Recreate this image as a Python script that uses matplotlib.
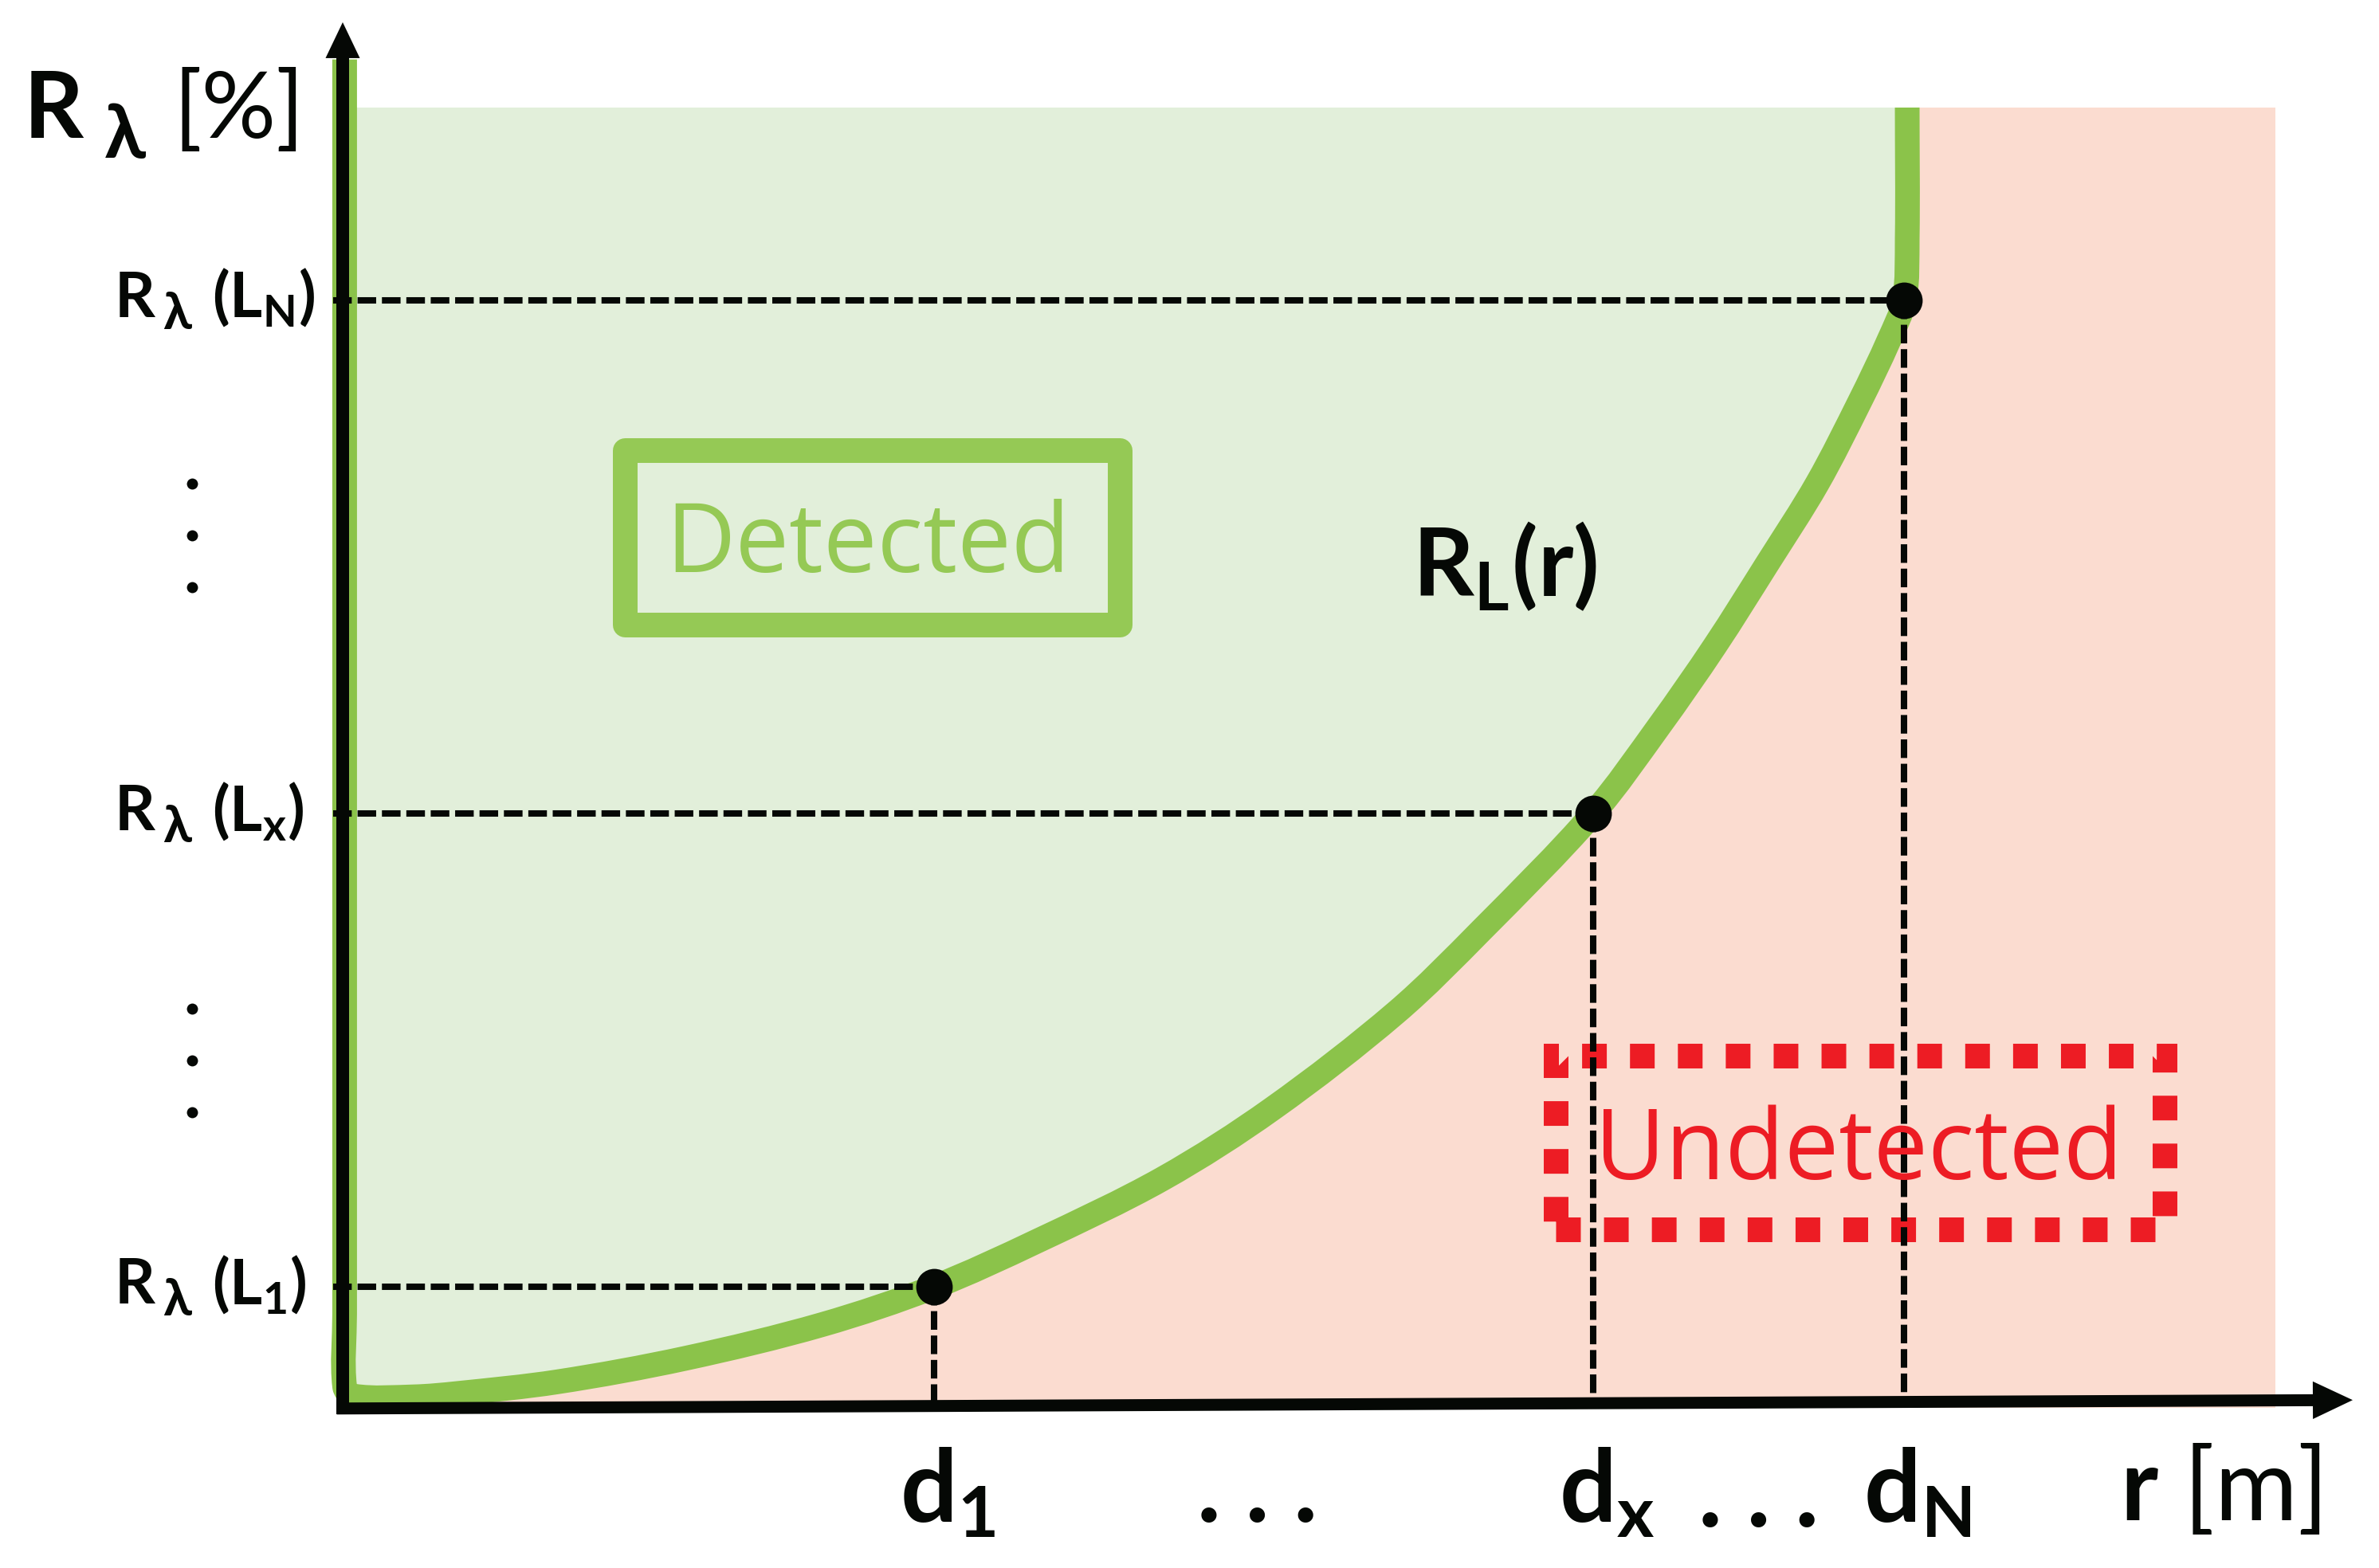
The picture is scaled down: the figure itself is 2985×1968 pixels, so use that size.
import math
import matplotlib
matplotlib.use("Agg")
import matplotlib.pyplot as plt
from matplotlib.patches import Rectangle, ArrowStyle, PathPatch
from matplotlib.path import Path

W, H, DPI = 2985, 1968, 100

plt.rcParams['font.family'] = ['Lato', 'DejaVu Sans']
plt.rcParams['mathtext.fontset'] = 'custom'
plt.rcParams['mathtext.rm'] = 'Lato'
plt.rcParams['mathtext.it'] = 'Lato:italic'
plt.rcParams['mathtext.bf'] = 'Lato:bold'
plt.rcParams['mathtext.sf'] = 'Lato'

# ---------------- data (r and R in % of the frame) ----------------
curve_r = [0.1, 0.1, 0.1, 0.6, 3.7, 5.9, 11.1, 17.7, 24.8, 30.6, 35.9, 42.4, 48.1,
           54.5, 58.9, 64.7, 68.1, 71.0, 73.7, 76.3, 78.5, 80.0, 80.8, 80.95, 80.95]
curve_R = [103.7, 7.2, 1.65, 0.9, 0.85, 1.1, 2.0, 3.8, 6.4, 9.3, 12.8, 17.6, 23.0,
           30.4, 36.7, 45.7, 52.4, 58.6, 64.9, 71.1, 77.4, 82.1, 85.2, 89.9, 100.0]
point_r = [30.6, 64.7, 80.8]
point_R = [9.3, 45.7, 85.2]
x_tick_labels = [r'$\mathbf{d_{1}}$', r'$\mathbf{d_{x}}$', r'$\mathbf{d_{N}}$']
y_tick_subs = [r'$\mathbf{(L_{1})}$', r'$\mathbf{(L_{x})}$', r'$\mathbf{(L_{N})}$']
x_title = r'$\mathbf{r}$ [m]'
y_title = ['R', 'λ', '[%]']
curve_label = r'$\mathbf{R_{L}(r)}$'
region_labels = ['Detected', 'Undetected']

# ---------------- styles ----------------
GREEN_LINE = '#8BC34A'
BOX_GREEN = '#95C955'
BG_GREEN = '#E2EFDA'
BG_PINK = '#FBDCD0'
RED = '#ED1C24'
BLACK = '#050805'


def fx(px):
    return px / W


def fy(py):
    return 1 - py / H


def _unit(dx, dy):
    n = math.hypot(dx, dy)
    return (dx / n, dy / n) if n > 0 else (0.0, 0.0)


def smooth_path(xs, ys, close_to=None):
    """Smooth curve through the given points (cubic Bezier, handles 1/3 of each segment)."""
    pts = list(zip(xs, ys))
    n = len(pts)
    verts = [pts[0]]
    codes = [Path.MOVETO]
    for i in range(n - 1):
        p0 = pts[max(i - 1, 0)]
        p1 = pts[i]
        p2 = pts[i + 1]
        p3 = pts[min(i + 2, n - 1)]
        L = math.hypot(p2[0] - p1[0], p2[1] - p1[1]) / 3
        t1 = _unit(p2[0] - p0[0], p2[1] - p0[1])
        t2 = _unit(p3[0] - p1[0], p3[1] - p1[1])
        c1 = (p1[0] + t1[0] * L, p1[1] + t1[1] * L)
        c2 = (p2[0] - t2[0] * L, p2[1] - t2[1] * L)
        verts += [c1, c2, p2]
        codes += [Path.CURVE4] * 3
    if close_to is not None:
        verts += [close_to, pts[0]]
        codes += [Path.LINETO, Path.CLOSEPOLY]
    return Path(verts, codes)


fig = plt.figure(figsize=(W / DPI, H / DPI), dpi=DPI)
ax = fig.add_axes([430 / W, 1 - 1767 / H, 2425 / W, 1632 / H])
ax.set_xlim(0, 100)
ax.set_ylim(0, 100)
ax.axis('off')

# backgrounds
ax.add_patch(Rectangle((0, 0), 100, 100, fc=BG_PINK, ec='none', zorder=0))
fill_R = [min(v, 100) for v in curve_R]
ax.add_patch(PathPatch(smooth_path(curve_r, fill_R, close_to=(0, 100)),
                       fc=BG_GREEN, ec='none', lw=0, zorder=1))

# region boxes
ax.add_patch(Rectangle((14.58, 60.26), 25.61, 13.42, fill=False, ec=BOX_GREEN,
                       lw=22.3, joinstyle='round', zorder=2))
ax.add_patch(Rectangle((62.78, 13.70), 31.47, 13.41, fill=False, ec=RED,
                       lw=22.3, ls=(0, (1, 0.94)), capstyle='butt', zorder=2))

# curve
ax.add_patch(PathPatch(smooth_path(curve_r, curve_R), fill=False, ec=GREEN_LINE,
                       lw=22.3, joinstyle='round', capstyle='butt', clip_on=False,
                       zorder=3))

# dashed guides
for r, R in zip(point_r, point_R):
    ax.plot([-0.5, r], [R, R], color=BLACK, lw=5.8, ls=(0, (2.9, 0.9)),
            dash_capstyle='butt', clip_on=False, zorder=4)
    ax.plot([r, r], [R, 0], color=BLACK, lw=5.8, ls=(0, (2.9, 0.9)),
            dash_capstyle='butt', clip_on=False, zorder=4)

# axes arrows
ax.annotate('', xy=(0, 106.56), xytext=(0, -0.49), xycoords='data',
            arrowprops=dict(arrowstyle=ArrowStyle.Simple(head_length=0.324, head_width=0.31,
                                                         tail_width=0.115),
                            mutation_scale=100, fc=BLACK, ec='none', lw=0,
                            shrinkA=0, shrinkB=0),
            annotation_clip=False, zorder=5)
ax.annotate('', xy=(104.0, 0.6), xytext=(-0.3, -0.05), xycoords='data',
            arrowprops=dict(arrowstyle=ArrowStyle.Simple(head_length=0.36, head_width=0.34,
                                                         tail_width=0.108),
                            mutation_scale=100, fc=BLACK, ec='none', lw=0,
                            shrinkA=0, shrinkB=0),
            annotation_clip=False, zorder=5)

# points
ax.plot(point_r, point_R, 'o', ms=33, color=BLACK, mec='none', clip_on=False, zorder=6)

# y tick labels: "R", a lowered "λ", then "(L_i)"
for R, sub in zip(point_R, y_tick_subs):
    tR = ax.annotate('R', xy=(0, R), xytext=(-286, -21), textcoords='offset pixels',
                     ha='left', va='baseline', fontsize=57, fontweight='bold',
                     color=BLACK, annotation_clip=False)
    tl = ax.annotate('λ', xy=(1, R), xycoords=(tR, 'data'), xytext=(9, -36),
                     textcoords='offset pixels', ha='left', va='baseline', fontsize=47,
                     fontweight='bold', color=BLACK, annotation_clip=False)
    ax.annotate(sub, xy=(1, R), xycoords=(tl, 'data'), xytext=(26, -21),
                textcoords='offset pixels', ha='left', va='baseline', fontsize=57,
                color=BLACK, annotation_clip=False)

# x tick labels
for r, lab in zip(point_r, x_tick_labels):
    ax.annotate(lab, xy=(r, 0), xytext=(17, -143), textcoords='offset pixels',
                ha='center', va='baseline', fontsize=91, color=BLACK,
                annotation_clip=False)

# ellipses between ticks
for cx, by in [(1578, 1910), (2207, 1916)]:
    fig.text(fx(cx), fy(by), '. . .', ha='center', va='baseline', fontsize=91,
             fontweight='bold', color=BLACK)
for c in [67.1, 26.7]:
    ax.plot([-7.8] * 3, [c - 3.98, c, c + 3.98], 'o', ms=10, color=BLACK, mec='none',
            clip_on=False, zorder=6)

# y title: "R", lowered "λ", "[%]"
tY = ax.annotate(y_title[0], xy=(30, H - 173), xycoords='figure pixels', ha='left',
                 va='baseline', fontsize=84, fontweight='bold', color=BLACK,
                 annotation_clip=False)
tYl = ax.annotate(y_title[1], xy=(1, H - 198), xycoords=(tY, 'figure pixels'),
                  xytext=(26, 0), textcoords='offset pixels', ha='left', va='baseline',
                  fontsize=68, fontweight='bold', color=BLACK, annotation_clip=False)
ax.annotate(y_title[2], xy=(1, H - 173), xycoords=(tYl, 'figure pixels'),
            xytext=(34, 0), textcoords='offset pixels', ha='left', va='baseline',
            fontsize=84, color=BLACK, annotation_clip=False)

# other labels
fig.text(fx(2660), fy(1908), x_title, fontsize=91, ha='left', va='baseline', color=BLACK)
fig.text(fx(1772), fy(748), curve_label, fontsize=86, ha='left', va='baseline', color=BLACK)
fig.text(fx(1089), fy(718), region_labels[0], family='Open Sans', fontsize=86.7,
         color=BOX_GREEN, ha='center', va='baseline')
fig.text(fx(2332), fy(1480), region_labels[1], family='Open Sans', fontsize=87.7,
         color=RED, ha='center', va='baseline')

fig.savefig('out.png', dpi=DPI, facecolor='white')
